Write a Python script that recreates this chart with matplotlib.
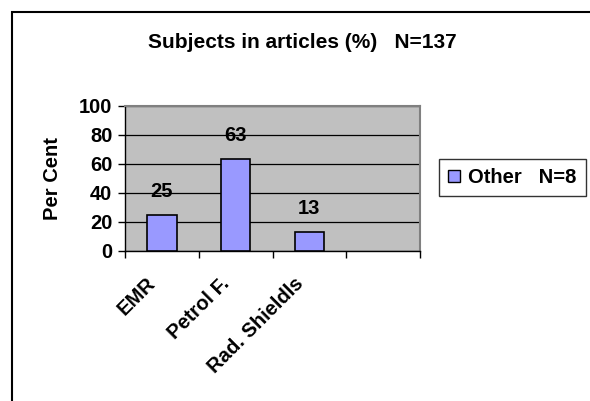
import matplotlib
matplotlib.use("Agg")
import matplotlib.pyplot as plt
from matplotlib.patches import Rectangle
from matplotlib.lines import Line2D
from matplotlib.transforms import ScaledTranslation, blended_transform_factory

plt.rcParams['font.family'] = ['Liberation Sans', 'DejaVu Sans']
plt.rcParams['font.weight'] = 'bold'

title = "Subjects in articles (%)   N=137"
categories = ["EMR", "Petrol F.", "Rad. Shieldls", ""]
values = [25, 63, 13]
series_name = "Other   N=8"
y_ticks = [0, 20, 40, 60, 80, 100]
bar_color = "#9999FF"

FS = 14.5
W, H = 590, 401
fig = plt.figure(figsize=(W / 100, H / 100), dpi=100)

# outer chart frame
fig.patches.append(Rectangle((12 / W, -0.1), 1.2, (H - 11.5) / H + 0.1,
                             transform=fig.transFigure, fill=False,
                             edgecolor="#000000", linewidth=1.5, clip_on=False))

ax = fig.add_axes([125 / W, (H - 251) / H, (420 - 125) / W, (251 - 105.5) / H])
ax.set_facecolor("#C0C0C0")
n = len(categories)
pos = [i + 0.5 for i in range(len(values))]
ax.bar(pos, values, width=0.4, color=bar_color, edgecolor="black", linewidth=1.2, zorder=3)
for p, v in zip(pos, values):
    ax.annotate(f"{v}", (p, v), xytext=(0, 10), textcoords="offset points",
                ha="center", va="bottom", fontsize=FS, fontweight="bold")

ax.set_xlim(0, n)
ax.set_ylim(0, 100)
ax.set_yticks(y_ticks)
ax.set_yticklabels([str(t) for t in y_ticks], fontsize=FS, fontweight="bold")
ax.yaxis.grid(True, color="black", linewidth=0.9, zorder=1)
ax.set_axisbelow(True)
ax.set_xticks(range(n + 1))
ax.set_xticklabels([""] * (n + 1))

# category labels, rotated 45 degrees under each category
trans = blended_transform_factory(ax.transData, ax.transAxes) + \
    ScaledTranslation(-16 / 100, -23 / 100, fig.dpi_scale_trans)
for i, c in enumerate(categories):
    ax.text(i + 0.5, 0, c, transform=trans, rotation=45, ha="right", va="top",
            rotation_mode="anchor", fontsize=FS, fontweight="bold", clip_on=False)

ax.tick_params(axis="x", which="major", length=5, width=1, direction="out", color="black")
ax.tick_params(axis="y", length=5, width=1, direction="out", color="black", pad=4)
for s in ["top", "right"]:
    ax.spines[s].set_color("#808080")
    ax.spines[s].set_linewidth(1.5)
for s in ["left", "bottom"]:
    ax.spines[s].set_color("black")
    ax.spines[s].set_linewidth(1)
ax.set_ylabel("Per Cent", fontsize=FS, fontweight="bold", labelpad=12)

fig.text(302 / W, 1 - 43 / H, title, ha="center", va="center", fontsize=15, fontweight="bold")

handle = Line2D([], [], marker="s", linestyle="none", markersize=8,
                markerfacecolor=bar_color, markeredgecolor="black", markeredgewidth=1)
leg = fig.legend([handle], [series_name], loc="center",
                 bbox_to_anchor=(512.5 / W, 1 - 177.5 / H), frameon=True, fancybox=False,
                 prop={"size": FS, "weight": "bold"}, handlelength=0.6, handletextpad=0.4,
                 borderpad=0.45, borderaxespad=0)
leg.get_frame().set_edgecolor("black")
leg.get_frame().set_linewidth(1)

fig.savefig("out.png", dpi=100)
